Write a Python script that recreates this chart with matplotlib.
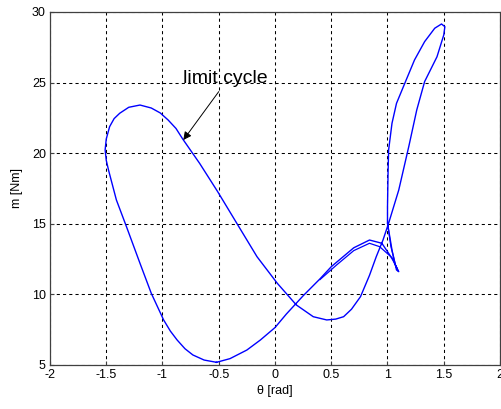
"""Phase portrait of the limit cycle: torque m vs angle theta."""

import matplotlib
matplotlib.use("Agg")
import matplotlib.pyplot as plt

plt.rcParams["font.family"] = ["Liberation Sans", "DejaVu Sans"]

# main pass of the cycle (theta in rad, m in Nm)
theta_a = [-0.52, -0.63, -0.73, -0.80, -0.87, -0.93, -0.99, -1.10, -1.20, -1.32,
           -1.41, -1.48, -1.50, -1.51, -1.50, -1.47, -1.43, -1.38, -1.30, -1.20,
           -1.10, -1.02, -0.95, -0.88, -0.82, -0.67, -0.51, -0.34, -0.16, 0.02,
           0.19, 0.34, 0.46, 0.54, 0.61, 0.68, 0.76, 0.84, 0.90, 0.96,
           1.01, 1.10, 1.19, 1.26, 1.33, 1.44, 1.50, 1.51, 1.48, 1.42,
           1.33, 1.24, 1.16, 1.08, 1.04, 1.01, 1.005, 1.00, 1.00, 1.04,
           1.08, 1.10, 1.05, 1.02, 0.95, 0.84, 0.70, 0.50, 0.40, 0.25,
           0.10, 0.00, -0.13, -0.25, -0.40, -0.52]
m_a = [5.19, 5.35, 5.71, 6.15, 6.77, 7.40, 8.19, 10.08, 12.20, 14.79,
       16.69, 18.81, 19.50, 20.23, 21.00, 21.88, 22.45, 22.83, 23.25, 23.41,
       23.20, 22.85, 22.35, 21.75, 21.00, 19.28, 17.28, 15.04, 12.67, 10.79,
       9.25, 8.42, 8.19, 8.25, 8.42, 8.95, 9.84, 11.35, 12.67, 13.85,
       15.04, 17.39, 20.50, 23.06, 25.07, 26.83, 28.37, 28.96, 29.15, 28.85,
       27.90, 26.60, 25.07, 23.53, 22.12, 20.23, 18.60, 16.20, 15.04, 13.14,
       11.73, 11.61, 12.40, 12.79, 13.62, 13.85, 13.30, 11.96, 11.10, 9.90,
       8.60, 7.65, 6.77, 6.06, 5.45, 5.19]

# second pass, only visible as a doubled line near the hump and tip
theta_b = [1.00, 1.03, 1.07, 1.09, 1.04, 0.93, 0.84, 0.70, 0.55, 0.40]
m_b = [15.04, 13.40, 12.10, 11.75, 12.60, 13.38, 13.62, 13.10, 12.10, 11.05]

X_TICKS = [-2, -1.5, -1, -0.5, 0, 0.5, 1, 1.5, 2]
Y_TICKS = [5, 10, 15, 20, 25, 30]

fig = plt.figure(figsize=(5.01, 4.09), dpi=100)
ax = fig.add_axes([0.0998, 0.1076, 0.8982, 0.8631])

ax.plot(theta_a, m_a, color="#0000ff", linewidth=1.0, solid_joinstyle="round")
ax.plot(theta_b, m_b, color="#0000ff", linewidth=0.9, solid_joinstyle="round")

ax.set_xlim(-2, 2)
ax.set_ylim(5, 30)
ax.set_xticks(X_TICKS)
ax.set_xticklabels(["-2", "-1.5", "-1", "-0.5", "0", "0.5", "1", "1.5", "2"])
ax.set_yticks(Y_TICKS)
ax.grid(True, color="black", linestyle=(0, (3, 3)), linewidth=0.75)
ax.tick_params(direction="in", length=3, labelsize=9, pad=3, color="#404040")
for sp in ax.spines.values():
    sp.set_color("#404040")
    sp.set_linewidth(0.9)

ax.set_xlabel("θ [rad]", fontsize=9, labelpad=3)
ax.set_ylabel("m [Nm]", fontsize=9, labelpad=6)

ax.text(-0.82, 24.95, "limit cycle", fontsize=14, ha="left", va="baseline",
        color="black")
ax.annotate("", xy=(-0.815, 20.93), xytext=(-0.50, 24.36),
            arrowprops=dict(arrowstyle="-|>", color="black", lw=0.7,
                            mutation_scale=12, shrinkA=0, shrinkB=0))

fig.savefig("out.png", dpi=100)
